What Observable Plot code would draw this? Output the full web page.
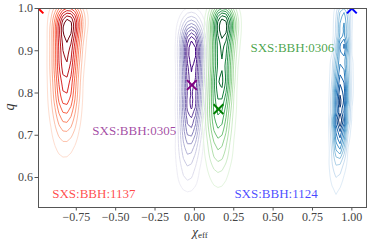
<!DOCTYPE html>
<html><head><meta charset="utf-8">
<script src="https://cdn.jsdelivr.net/npm/d3@7"></script>
<script src="https://cdn.jsdelivr.net/npm/@observablehq/plot@0.6"></script>
<style>body{margin:0;background:#fff;} svg{display:block;}</style>
</head><body><div id="chart"></div>
<script>
// ---- data ----
const xTicks = [-0.75, -0.5, -0.25, 0, 0.25, 0.5, 0.75, 1.0];
const yTicks = [0.6, 0.7, 0.8, 0.9, 1.0];

// SXS:BBH:1137 (red) posterior spine
const redQ = [1.00, 0.98, 0.96, 0.94, 0.92, 0.90, 0.88, 0.86, 0.84, 0.82, 0.80, 0.78, 0.76, 0.74, 0.72, 0.70, 0.68, 0.66, 0.64, 0.62];
const redX = [-0.80, -0.80, -0.805, -0.81, -0.81, -0.815, -0.815, -0.82, -0.82, -0.82, -0.82, -0.82, -0.82, -0.82, -0.82, -0.82, -0.825, -0.825, -0.825, -0.825];
const redW = [0.7, 0.8, 1.0, 0.85, 0.8, 0.76, 0.73, 0.7, 0.65, 0.6, 0.55, 0.48, 0.42, 0.36, 0.28, 0.2, 0.14, 0.1, 0.07, 0.04];

// SXS:BBH:0305 (purple)
const purQ = [1.00, 0.98, 0.96, 0.94, 0.92, 0.90, 0.88, 0.86, 0.84, 0.82, 0.80, 0.78, 0.76, 0.74, 0.72, 0.70, 0.68, 0.66, 0.64, 0.62, 0.60, 0.58, 0.56];
const purX = [-0.02, -0.02, -0.02, -0.018, -0.015, -0.015, -0.015, -0.015, -0.015, -0.015, -0.018, -0.02, -0.022, -0.025, -0.028, -0.03, -0.033, -0.035, -0.037, -0.04, -0.04, -0.04, -0.04];
const purW = [0.05, 0.25, 0.5, 0.7, 0.85, 1.0, 0.9, 0.85, 0.83, 0.82, 0.8, 0.76, 0.7, 0.64, 0.58, 0.5, 0.43, 0.36, 0.3, 0.24, 0.18, 0.12, 0.07];

// SXS:BBH:0306 (green)
const grnQ = [1.00, 0.98, 0.96, 0.94, 0.92, 0.90, 0.88, 0.86, 0.84, 0.82, 0.80, 0.78, 0.76, 0.74, 0.72, 0.70, 0.68, 0.66, 0.64, 0.62, 0.60, 0.58, 0.56];
const grnX = [0.18, 0.182, 0.182, 0.18, 0.178, 0.175, 0.172, 0.17, 0.168, 0.165, 0.163, 0.16, 0.158, 0.155, 0.155, 0.155, 0.155, 0.155, 0.153, 0.153, 0.153, 0.153, 0.153];
const grnW = [0.55, 0.7, 1.0, 0.75, 0.7, 0.68, 0.67, 0.66, 0.65, 0.64, 0.62, 0.6, 0.56, 0.52, 0.47, 0.41, 0.34, 0.28, 0.22, 0.17, 0.12, 0.08, 0.05];

// SXS:BBH:1124 (blue)
const bluQ = [1.00, 0.98, 0.96, 0.94, 0.92, 0.90, 0.88, 0.86, 0.84, 0.82, 0.80, 0.78, 0.76, 0.74, 0.72, 0.70, 0.68, 0.66, 0.64, 0.62, 0.60, 0.58, 0.56, 0.54];
const bluX = [0.945, 0.944, 0.943, 0.942, 0.94, 0.938, 0.936, 0.935, 0.934, 0.933, 0.932, 0.93, 0.928, 0.926, 0.923, 0.921, 0.918, 0.915, 0.912, 0.909, 0.905, 0.902, 0.899, 0.896];
const bluW = [0.4, 0.48, 0.52, 0.56, 0.6, 0.63, 0.67, 0.72, 0.8, 0.88, 0.95, 1.0, 0.98, 0.93, 0.86, 0.74, 0.6, 0.46, 0.35, 0.26, 0.19, 0.13, 0.08, 0.05];

// true-value markers
const markName = ["SXS:BBH:1137", "SXS:BBH:0305", "SXS:BBH:0306", "SXS:BBH:1124"];
const markX = [-0.99, -0.016, 0.153, 1.0];
const markQ = [1.0, 0.819, 0.762, 1.0];
const markColor = ["red", "purple", "green", "blue"];

// labels
const labelText = ["SXS:BBH:1137", "SXS:BBH:0305", "SXS:BBH:0306", "SXS:BBH:1124"];
const labelX = [-0.903, -0.648, 0.356, 0.254];
const labelQ = [0.561, 0.711, 0.908, 0.561];
const labelColor = ["red", "purple", "green", "blue"];

// ---- build ----
const FONT = "'Liberation Serif', 'DejaVu Serif', serif";
const toRows = (X, Q, W) => X.map((x, i) => ({x, q: Q[i], w: W[i]}));
const sets = [
  {rows: toRows(redX, redQ, redW), interp: d3.interpolateReds, bw: 7},
  {rows: toRows(purX, purQ, purW), interp: d3.interpolatePurples, bw: 5.5},
  {rows: toRows(grnX, grnQ, grnW), interp: d3.interpolateGreens, bw: 6},
  {rows: toRows(bluX, bluQ, bluW), interp: d3.interpolateBlues, bw: 2.6}
];

function recolor(interp) {
  return function (index, scales, values, dims, context, next) {
    const g = next(index, scales, values, dims, context);
    const paths = g.querySelectorAll("path");
    const n = paths.length;
    paths.forEach((p, i) => p.setAttribute("stroke", interp(0.12 + 0.88 * (n > 1 ? i / (n - 1) : 1))));
    return g;
  };
}

const markers = markX.map((x, i) => ({x, q: markQ[i], c: markColor[i], name: markName[i]}));
const labels = labelX.map((x, i) => ({x, q: labelQ[i], t: labelText[i], c: labelColor[i]}));

const chart = Plot.plot({
  width: 374,
  height: 242,
  marginLeft: 38,
  marginRight: 8,
  marginTop: 8,
  marginBottom: 35,
  style: {fontFamily: FONT, fontSize: "12px", color: "#444", background: "#fff"},
  x: {domain: [-0.99, 1.093]},
  y: {domain: [0.529, 1.0]},
  marks: [
    ...sets.map(s => Plot.density(s.rows, {
      x: "x", y: "q", weight: "w", bandwidth: s.bw, thresholds: 11,
      stroke: "#000", strokeWidth: 1, clip: true, render: recolor(s.interp)
    })),
    Plot.dot(markers, {x: "x", y: "q", symbol: "times", stroke: "c", r: 4.5, strokeWidth: 2, clip: true}),
    Plot.text(labels, {x: "x", y: "q", text: "t", fill: "c", fillOpacity: 0.72, textAnchor: "start", fontSize: 13, fontFamily: FONT}),
    Plot.frame({stroke: "#555"}),
    Plot.axisX({ticks: xTicks, tickFormat: d3.format(".2f"), tickSize: 3.5, tickPadding: 1.5, label: null, stroke: "#555", fontFamily: FONT}),
    Plot.axisY({ticks: yTicks, tickFormat: d3.format(".1f"), tickSize: 3.5, tickPadding: 2, label: null, stroke: "#555", fontFamily: FONT})
  ]
});
document.getElementById("chart").appendChild(chart);

// axis titles (math style)
const svg = d3.select(chart);
const xl = svg.append("text").attr("x", 200).attr("y", 236).attr("text-anchor", "middle")
  .attr("font-family", FONT).attr("font-size", 13).attr("fill", "#333");
xl.append("tspan").attr("font-style", "italic").text("χ");
xl.append("tspan").attr("font-size", 9).attr("dy", 2).text("eff");
svg.append("text").attr("transform", "translate(14,107) rotate(-90)").attr("text-anchor", "middle")
  .attr("font-family", FONT).attr("font-style", "italic").attr("font-size", 14)
  .attr("fill", "#333").text("q");
</script></body></html>
